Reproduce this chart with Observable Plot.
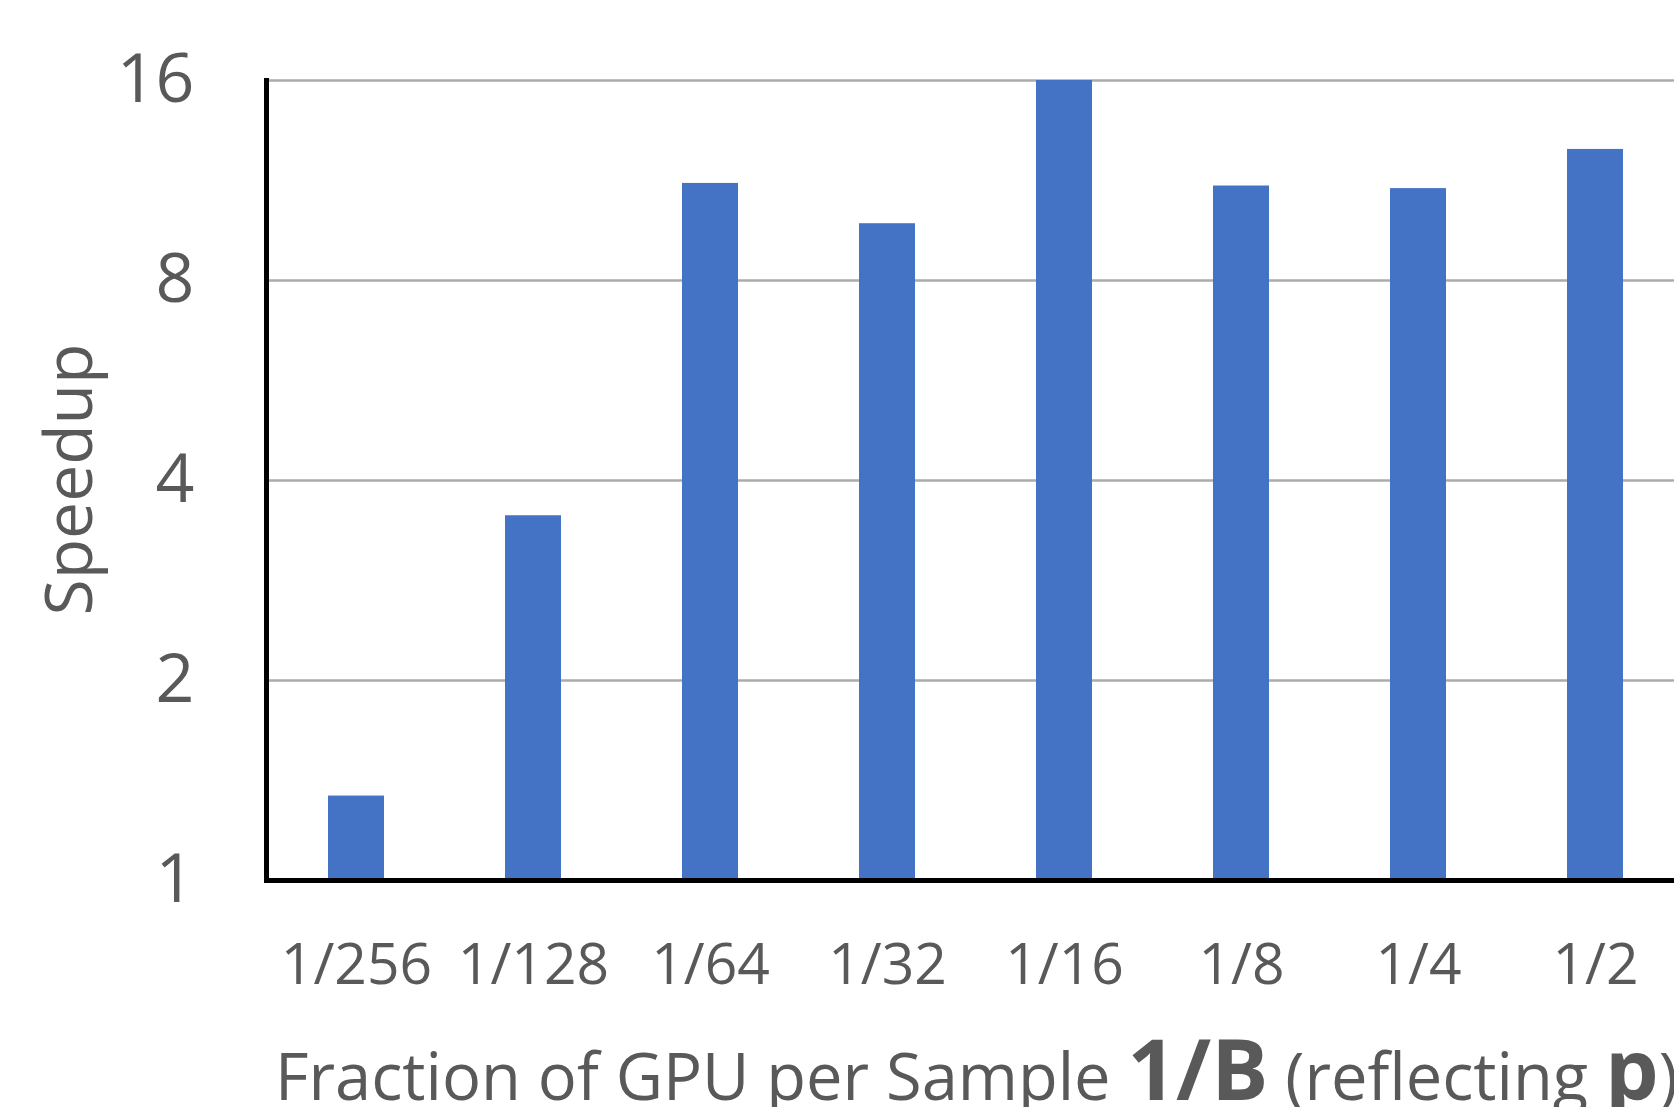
<!DOCTYPE html>
<html>
<head>
<meta charset="utf-8">
<script src="https://cdn.jsdelivr.net/npm/d3@7"></script>
<script src="https://cdn.jsdelivr.net/npm/@observablehq/plot@0.6"></script>
<style>
  html, body { margin: 0; padding: 0; background: #fff; overflow: hidden; }
  #wrap { position: relative; width: 1674px; height: 1107px; overflow: hidden; }
  #wrap > svg:first-child { max-width: none !important; height: 1107px !important; }
  #xtitle { position: absolute; left: 0; top: 0; pointer-events: none; }
</style>
</head>
<body>
<div id="wrap"></div>
<script>
// GPU fraction per sample and the measured speedup for each
const fractions = ["1/256", "1/128", "1/64", "1/32", "1/16", "1/8", "1/4", "1/2"];
const speedups = [1.34, 3.54, 11.2, 9.74, 16, 11.1, 11.0, 12.6];
const yTicks = [1, 2, 4, 8, 16];
const gridValues = [2, 4, 8, 16];

const data = fractions.map((f, i) => ({fraction: f, speedup: speedups[i]}));

const textColor = "#595959";

const chart = Plot.plot({
  width: 1760,
  height: 1107,
  marginLeft: 266,
  marginRight: 76,
  marginTop: 80,
  marginBottom: 227,
  style: {fontFamily: "'Open Sans', sans-serif", color: textColor, background: "white", maxWidth: "none"},
  x: {domain: fractions, paddingInner: 0.684, paddingOuter: 0.342, label: null},
  y: {type: "log", base: 2, domain: [1, 16], label: null},
  marks: [
    Plot.ruleY(gridValues, {stroke: "#ABABAB", strokeWidth: 2.5}),
    Plot.barY(data, {x: "fraction", y1: 1, y2: "speedup", fill: "#4472C4"}),
    Plot.ruleY([1], {stroke: "black", strokeWidth: 5}),
    Plot.frame({anchor: "left", stroke: "black", strokeWidth: 5}),
    Plot.axisY({ticks: yTicks, tickFormat: d => String(d), tickSize: 0, tickPadding: 72, fontSize: 68, label: null}),
    Plot.axisX({tickSize: 0, tickPadding: 63, fontSize: 57, label: null}),
    Plot.text(["Speedup"], {
      frameAnchor: "left", textAnchor: "middle", lineAnchor: "middle",
      rotate: -90, dx: -196, dy: -1, fontSize: 66, fill: textColor
    })
  ]
});

const wrap = document.getElementById("wrap");
chart.style.maxWidth = "none";
wrap.appendChild(chart);

// x-axis title with bold symbols
const svg = d3.select(wrap).append("svg")
  .attr("id", "xtitle")
  .attr("width", 1674)
  .attr("height", 1107);
const t = svg.append("text")
  .attr("x", 275)
  .attr("y", 1100)
  .attr("fill", textColor)
  .style("font-family", "'Open Sans', sans-serif")
  .style("font-size", "65px");
t.append("tspan").text("Fraction of GPU per Sample ");
t.append("tspan").style("font-weight", "bold").style("font-size", "85px").text("1/B");
t.append("tspan").text(" (reflecting ");
t.append("tspan").style("font-weight", "bold").style("font-size", "85px").text("p");
t.append("tspan").text(")");
</script>
</body>
</html>
